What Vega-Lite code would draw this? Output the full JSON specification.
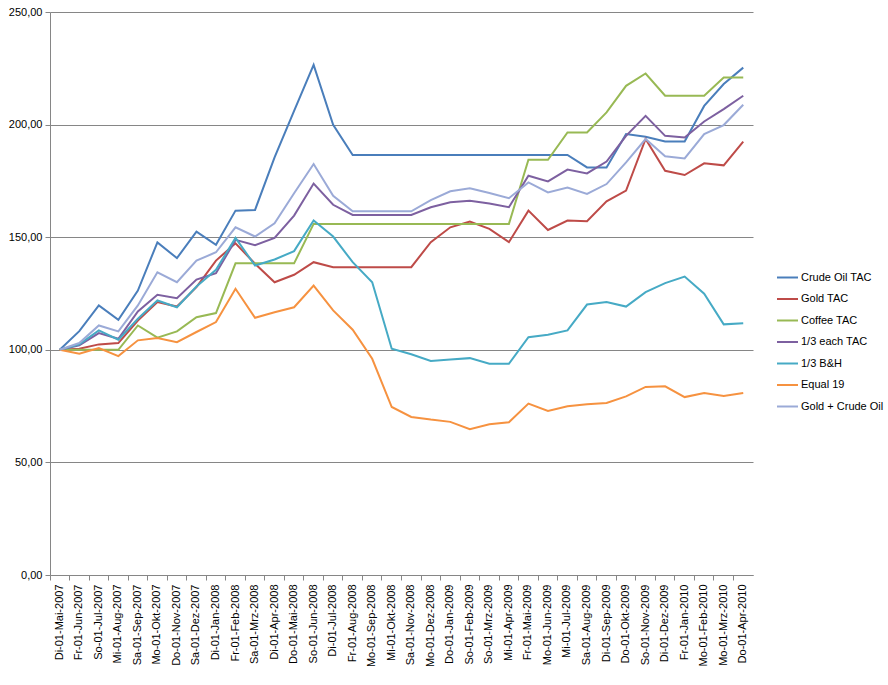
{
  "$schema": "https://vega.github.io/schema/vega-lite/v6.json",
  "autosize": {"type": "none"},
  "width": 703,
  "height": 563,
  "padding": {"left": 50, "top": 12, "right": 135, "bottom": 110},
  "background": "white",
  "data": {"values": [
    {"d":"Di-01-Mai-2007","Crude Oil TAC":100,"Gold TAC":100,"Coffee TAC":100,"1/3 each TAC":100,"1/3 B&H":100,"Equal 19":100,"Gold + Crude  Oil":100},
    {"d":"Fr-01-Jun-2007","Crude Oil TAC":108.3,"Gold TAC":100.5,"Coffee TAC":100,"1/3 each TAC":102,"1/3 B&H":102.4,"Equal 19":98.3,"Gold + Crude  Oil":103},
    {"d":"So-01-Jul-2007","Crude Oil TAC":119.7,"Gold TAC":102.4,"Coffee TAC":100,"1/3 each TAC":107.4,"1/3 B&H":108.6,"Equal 19":100.8,"Gold + Crude  Oil":110.8},
    {"d":"Mi-01-Aug-2007","Crude Oil TAC":113.3,"Gold TAC":103,"Coffee TAC":100,"1/3 each TAC":104.9,"1/3 B&H":104.5,"Equal 19":97.2,"Gold + Crude  Oil":108.2},
    {"d":"Sa-01-Sep-2007","Crude Oil TAC":126.3,"Gold TAC":113,"Coffee TAC":110.8,"1/3 each TAC":117,"1/3 B&H":113.8,"Equal 19":104.2,"Gold + Crude  Oil":119.7},
    {"d":"Mo-01-Okt-2007","Crude Oil TAC":147.7,"Gold TAC":121.2,"Coffee TAC":105.4,"1/3 each TAC":124.4,"1/3 B&H":121.9,"Equal 19":105.2,"Gold + Crude  Oil":134.4},
    {"d":"Do-01-Nov-2007","Crude Oil TAC":140.7,"Gold TAC":119.2,"Coffee TAC":108.2,"1/3 each TAC":122.9,"1/3 B&H":118.9,"Equal 19":103.4,"Gold + Crude  Oil":130},
    {"d":"Sa-01-Dez-2007","Crude Oil TAC":152.5,"Gold TAC":127.8,"Coffee TAC":114.5,"1/3 each TAC":131.2,"1/3 B&H":128.1,"Equal 19":107.9,"Gold + Crude  Oil":139.6},
    {"d":"Di-01-Jan-2008","Crude Oil TAC":146.6,"Gold TAC":139.6,"Coffee TAC":116.3,"1/3 each TAC":134,"1/3 B&H":135.5,"Equal 19":112.3,"Gold + Crude  Oil":143.3},
    {"d":"Fr-01-Feb-2008","Crude Oil TAC":161.8,"Gold TAC":147.3,"Coffee TAC":138.4,"1/3 each TAC":148.8,"1/3 B&H":149.7,"Equal 19":127.1,"Gold + Crude  Oil":154.4},
    {"d":"Sa-01-Mrz-2008","Crude Oil TAC":162.1,"Gold TAC":138.2,"Coffee TAC":138.4,"1/3 each TAC":146.4,"1/3 B&H":137.4,"Equal 19":114.2,"Gold + Crude  Oil":150.3},
    {"d":"Di-01-Apr-2008","Crude Oil TAC":185.4,"Gold TAC":130,"Coffee TAC":138.4,"1/3 each TAC":149.7,"1/3 B&H":140.1,"Equal 19":116.7,"Gold + Crude  Oil":156.2},
    {"d":"Do-01-Mai-2008","Crude Oil TAC":206.1,"Gold TAC":133.3,"Coffee TAC":138.4,"1/3 each TAC":159.6,"1/3 B&H":143.8,"Equal 19":118.9,"Gold + Crude  Oil":169.5},
    {"d":"So-01-Jun-2008","Crude Oil TAC":226.5,"Gold TAC":138.9,"Coffee TAC":155.9,"1/3 each TAC":173.8,"1/3 B&H":157.4,"Equal 19":128.5,"Gold + Crude  Oil":182.5},
    {"d":"Di-01-Jul-2008","Crude Oil TAC":199.9,"Gold TAC":136.7,"Coffee TAC":155.9,"1/3 each TAC":164.4,"1/3 B&H":150.3,"Equal 19":117.5,"Gold + Crude  Oil":168.4},
    {"d":"Fr-01-Aug-2008","Crude Oil TAC":186.5,"Gold TAC":136.7,"Coffee TAC":155.9,"1/3 each TAC":159.9,"1/3 B&H":138.9,"Equal 19":108.9,"Gold + Crude  Oil":161.5},
    {"d":"Mo-01-Sep-2008","Crude Oil TAC":186.5,"Gold TAC":136.7,"Coffee TAC":155.9,"1/3 each TAC":159.9,"1/3 B&H":130,"Equal 19":96,"Gold + Crude  Oil":161.5},
    {"d":"Mi-01-Okt-2008","Crude Oil TAC":186.5,"Gold TAC":136.7,"Coffee TAC":155.9,"1/3 each TAC":159.9,"1/3 B&H":100.5,"Equal 19":74.6,"Gold + Crude  Oil":161.5},
    {"d":"Sa-01-Nov-2008","Crude Oil TAC":186.5,"Gold TAC":136.7,"Coffee TAC":155.9,"1/3 each TAC":159.9,"1/3 B&H":98,"Equal 19":70.2,"Gold + Crude  Oil":161.5},
    {"d":"Mo-01-Dez-2008","Crude Oil TAC":186.5,"Gold TAC":147.8,"Coffee TAC":155.9,"1/3 each TAC":163.3,"1/3 B&H":95,"Equal 19":69,"Gold + Crude  Oil":166.5},
    {"d":"Do-01-Jan-2009","Crude Oil TAC":186.5,"Gold TAC":154.4,"Coffee TAC":155.9,"1/3 each TAC":165.5,"1/3 B&H":95.7,"Equal 19":68,"Gold + Crude  Oil":170.4},
    {"d":"So-01-Feb-2009","Crude Oil TAC":186.5,"Gold TAC":156.9,"Coffee TAC":155.9,"1/3 each TAC":166.2,"1/3 B&H":96.3,"Equal 19":64.7,"Gold + Crude  Oil":171.7},
    {"d":"So-01-Mrz-2009","Crude Oil TAC":186.5,"Gold TAC":153.7,"Coffee TAC":155.9,"1/3 each TAC":165,"1/3 B&H":93.8,"Equal 19":66.9,"Gold + Crude  Oil":169.6},
    {"d":"Mi-01-Apr-2009","Crude Oil TAC":186.5,"Gold TAC":147.8,"Coffee TAC":155.9,"1/3 each TAC":163.3,"1/3 B&H":93.8,"Equal 19":67.8,"Gold + Crude  Oil":167.3},
    {"d":"Fr-01-Mai-2009","Crude Oil TAC":186.5,"Gold TAC":161.8,"Coffee TAC":184.4,"1/3 each TAC":177.3,"1/3 B&H":105.6,"Equal 19":76.1,"Gold + Crude  Oil":174.3},
    {"d":"Mo-01-Jun-2009","Crude Oil TAC":186.5,"Gold TAC":153.2,"Coffee TAC":184.4,"1/3 each TAC":174.8,"1/3 B&H":106.7,"Equal 19":72.8,"Gold + Crude  Oil":169.9},
    {"d":"Mi-01-Jul-2009","Crude Oil TAC":186.5,"Gold TAC":157.4,"Coffee TAC":196.5,"1/3 each TAC":180,"1/3 B&H":108.6,"Equal 19":74.9,"Gold + Crude  Oil":172.1},
    {"d":"Sa-01-Aug-2009","Crude Oil TAC":181,"Gold TAC":157.1,"Coffee TAC":196.5,"1/3 each TAC":178.3,"1/3 B&H":120.1,"Equal 19":75.8,"Gold + Crude  Oil":169.2},
    {"d":"Di-01-Sep-2009","Crude Oil TAC":181,"Gold TAC":165.9,"Coffee TAC":205.4,"1/3 each TAC":183.6,"1/3 B&H":121.2,"Equal 19":76.4,"Gold + Crude  Oil":173.6},
    {"d":"Do-01-Okt-2009","Crude Oil TAC":195.8,"Gold TAC":170.7,"Coffee TAC":217.2,"1/3 each TAC":195,"1/3 B&H":119.2,"Equal 19":79.3,"Gold + Crude  Oil":183.2},
    {"d":"So-01-Nov-2009","Crude Oil TAC":194.6,"Gold TAC":193.6,"Coffee TAC":222.7,"1/3 each TAC":203.9,"1/3 B&H":125.6,"Equal 19":83.5,"Gold + Crude  Oil":193.6},
    {"d":"Di-01-Dez-2009","Crude Oil TAC":192.5,"Gold TAC":179.5,"Coffee TAC":212.8,"1/3 each TAC":195,"1/3 B&H":129.6,"Equal 19":83.8,"Gold + Crude  Oil":185.9},
    {"d":"Fr-01-Jan-2010","Crude Oil TAC":192.5,"Gold TAC":177.6,"Coffee TAC":212.8,"1/3 each TAC":194.3,"1/3 B&H":132.5,"Equal 19":79,"Gold + Crude  Oil":185},
    {"d":"Mo-01-Feb-2010","Crude Oil TAC":208.3,"Gold TAC":182.8,"Coffee TAC":212.8,"1/3 each TAC":201.4,"1/3 B&H":124.9,"Equal 19":80.8,"Gold + Crude  Oil":195.8},
    {"d":"Mo-01-Mrz-2010","Crude Oil TAC":218,"Gold TAC":181.9,"Coffee TAC":220.9,"1/3 each TAC":206.9,"1/3 B&H":111.3,"Equal 19":79.5,"Gold + Crude  Oil":199.8},
    {"d":"Do-01-Apr-2010","Crude Oil TAC":225.3,"Gold TAC":192.4,"Coffee TAC":220.9,"1/3 each TAC":212.8,"1/3 B&H":111.8,"Equal 19":80.8,"Gold + Crude  Oil":208.8}
  ]},
  "transform": [
    {"fold": ["Crude Oil TAC","Gold TAC","Coffee TAC","1/3 each TAC","1/3 B&H","Equal 19","Gold + Crude  Oil"], "as": ["series","value"]}
  ],
  "mark": {"type": "line", "strokeWidth": 2, "interpolate": "linear"},
  "encoding": {
    "x": {
      "field": "d", "type": "nominal", "sort": null,
      "scale": {"type": "band", "paddingInner": 0, "paddingOuter": 0},
      "axis": {
        "title": null, "labelAngle": -90, "labelAlign": "right", "labelBaseline": "middle",
        "bandPosition": 0, "labelOffset": 0, "labelPadding": 4,
        "ticks": true, "tickSize": 5, "tickColor": "#868686",
        "domainColor": "#868686", "domainWidth": 1,
        "labelFont": "Liberation Sans", "labelFontSize": 11, "labelColor": "#000000",
        "grid": false
      }
    },
    "y": {
      "field": "value", "type": "quantitative",
      "scale": {"domain": [0, 250], "nice": false},
      "axis": {
        "title": null, "values": [0, 50, 100, 150, 200, 250],
        "labelExpr": "replace(format(datum.value, '.2f'), '.', ',')",
        "grid": true, "gridColor": "#868686", "gridWidth": 1, "gridOpacity": 1,
        "domainColor": "#868686", "tickColor": "#868686", "tickSize": 5,
        "labelFont": "Liberation Sans", "labelFontSize": 11, "labelColor": "#000000", "labelPadding": 3
      }
    },
    "color": {
      "field": "series", "type": "nominal",
      "scale": {
        "domain": ["Crude Oil TAC","Gold TAC","Coffee TAC","1/3 each TAC","1/3 B&H","Equal 19","Gold + Crude  Oil"],
        "range": ["#4A7EBB","#BE4B48","#98B954","#7D60A0","#46AAC5","#F69240","#9BAAD7"]
      },
      "legend": {
        "title": null, "orient": "none", "legendX": 726, "legendY": 254,
        "symbolType": "stroke", "symbolSize": 441, "symbolStrokeWidth": 2,
        "labelFont": "Liberation Sans", "labelFontSize": 11, "labelColor": "#000000",
        "rowPadding": 4.5, "labelOffset": 2
      }
    }
  },
  "config": {
    "view": {"stroke": null},
    "axis": {"gridDash": []}
  }
}
